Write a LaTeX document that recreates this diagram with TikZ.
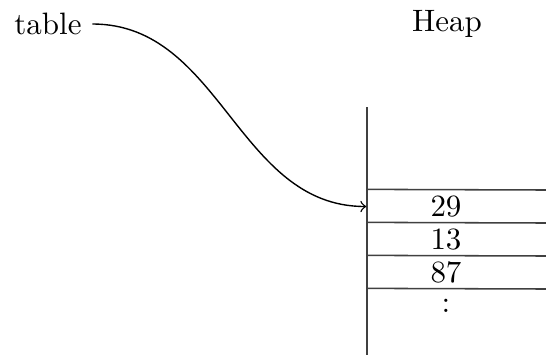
\documentclass[tikz,border=0pt]{standalone}
\begin{document}
\begin{tikzpicture}[x=0.01136cm,y=-0.01136cm,
  lbl/.style={inner sep=3.33pt},
  cell/.style={minimum width=1.795cm, minimum height=0.375cm, inner sep=0pt},
  rule/.style={line width=0.5pt, draw=black!75},
  link/.style={->, line width=0.45pt}]
\useasboundingbox (0,0) rectangle (546,355);
\node[lbl] (table) at (48,24) {table};
\node[lbl] (heap) at (447,24) {Heap};
\node[cell] (c1) at (446,206.5) {29};
\node[cell] (c2) at (446,239.5) {13};
\node[cell] (c3) at (446,272.5) {87};
\node[cell] (c4) at (446,305.5) {:};
\coordinate (top) at (367,107);
\coordinate (bot) at (367,355);
\coordinate (r1) at (546,190);
\coordinate (r2) at (546,223);
\coordinate (r3) at (546,256);
\coordinate (r4) at (546,289);
\draw[rule] (top) -- (bot);
\draw[rule] (c1.north west) -- (r1);
\draw[rule] (c2.north west) -- (r2);
\draw[rule] (c3.north west) -- (r3);
\draw[rule] (c4.north west) -- (r4);
\draw[link] (table.east) to[out=0,in=180] (c1.west);
\end{tikzpicture}
\end{document}
